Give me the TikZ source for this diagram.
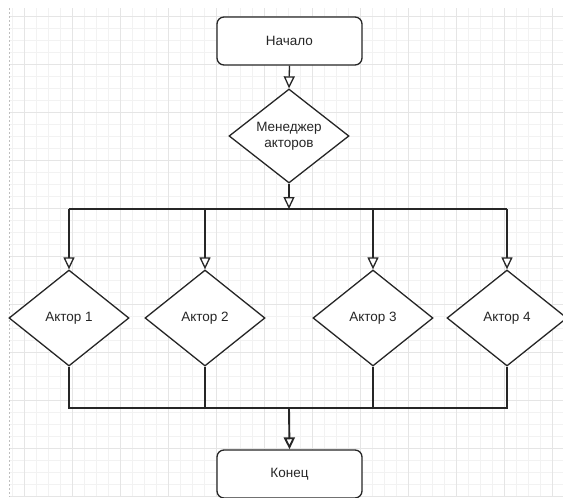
\documentclass[tikz,border=0pt]{standalone}
\usepackage{fontspec}
\setmainfont{Liberation Sans}
\usetikzlibrary{shapes.geometric,arrows.meta}
\tikzset{
  startbox/.style={draw=black!85, line width=1.3pt, rounded corners=7pt, fill=white,
    minimum width=145pt, minimum height=48pt, inner sep=0pt,
    font=\fontsize{13.5}{16}\selectfont, text=black!85},
  decision/.style={diamond, draw=black!85, line width=1.3pt, fill=white, aspect=1.25,
    minimum width=120pt, minimum height=96pt, inner sep=0pt, align=center,
    font=\fontsize{13.5}{16}\selectfont, text=black!85},
  wire/.style={draw=black!85, line width=1.3pt},
  arr/.style={wire, -{Triangle[open, length=12pt 0, width=11pt 0, fill=white]}},
  gridminor/.style={draw=black!5, line width=0.7pt},
  gridmajor/.style={draw=black!10, line width=0.8pt}
}
\begin{document}
\begin{tikzpicture}[x=1pt, y=-1pt]
\useasboundingbox (0,0) rectangle (563,498);
\clip (0,0) rectangle (563,498);
\fill[white] (0,0) rectangle (563,498);
% grid
\foreach \gx in {12,24,...,560} {\draw[gridminor] (\gx,8) -- (\gx,497);}
\foreach \gy in {16,28,...,496} {\draw[gridminor] (9,\gy) -- (563,\gy);}
\foreach \gx in {24,72,...,560} {\draw[gridmajor] (\gx,8) -- (\gx,497);}
\foreach \gy in {16,64,...,496} {\draw[gridmajor] (9,\gy) -- (563,\gy);}
\draw[black!25, dashed, dash pattern=on 2pt off 2pt, line width=0.6pt] (9,8) -- (9,497);
% nodes
\node[startbox] (start) at (289.5,41) {Начало};
\node[decision, minimum height=94pt] (mgr) at (289,136) {Менеджер\\акторов};
\node[decision] (a1) at (69,318) {Актор 1};
\node[decision] (a2) at (205,318) {Актор 2};
\node[decision] (a3) at (373,318) {Актор 3};
\node[decision] (a4) at (507,318) {Актор 4};
\node[startbox] (end) at (289.5,474) {Конец};
\coordinate (busT) at (289,209);
\coordinate (busB) at (289,408);
% connectors
\draw[arr] (start.south) -- (mgr.north);
\draw[wire] (a1 |- busT) -- (a4 |- busT);
\draw[arr] (mgr.south) -- (busT);
\draw[arr] (a1 |- busT) -- (a1.north);
\draw[arr] (a2 |- busT) -- (a2.north);
\draw[arr] (a3 |- busT) -- (a3.north);
\draw[arr] (a4 |- busT) -- (a4.north);
\draw[wire] (a1.south) -- (a1 |- busB) -- (a4 |- busB) -- (a4.south);
\draw[wire] (a2.south) -- (a2 |- busB);
\draw[wire] (a3.south) -- (a3 |- busB);
\draw[arr, line width=1.9pt] (busB) -- (end.north);
\end{tikzpicture}
\end{document}
